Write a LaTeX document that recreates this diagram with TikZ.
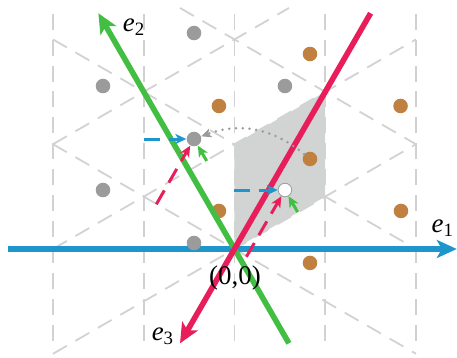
\documentclass[tikz,border=0pt]{standalone}
\usepackage{fontspec}
\setmainfont{Liberation Serif}
\usetikzlibrary{arrows.meta, calc}

\definecolor{axisblue}{RGB}{30,150,204}
\definecolor{axisgreen}{RGB}{66,190,66}
\definecolor{axisred}{RGB}{232,30,90}
\definecolor{dotgray}{RGB}{155,155,155}
\definecolor{dotorange}{RGB}{192,128,64}
\definecolor{regiongray}{RGB}{210,212,212}
\definecolor{gridgray}{RGB}{210,210,210}

\begin{document}
\begin{tikzpicture}[
        x=1.6cm, y=1.6cm,
        gridline/.style={
            draw=gridgray,
            line width=0.9pt,
            dash pattern=on 8pt off 5pt
        },
        region/.style={fill=regiongray},
        graydot/.style={
            circle,
            fill=dotgray,
            inner sep=0pt,
            minimum size=7.3pt
        },
        orangedot/.style={
            circle,
            fill=dotorange,
            inner sep=0pt,
            minimum size=7.3pt
        },
        whitedot/.style={
            circle,
            draw=dotgray,
            line width=0.4pt,
            fill=white,
            inner sep=0pt,
            minimum size=6.8pt
        },
        axis/.style={line width=2.8pt, -{Stealth[length=10pt, width=9pt, inset=2.5pt]}},
        movearrow/.style={
            line width=1.5pt,
            dash pattern=on 8pt off 4.5pt,
            -{Stealth[length=5.5pt, width=5pt, inset=1.5pt]}
        },
        turnarrow/.style={
            draw=dotgray,
            line width=1.4pt,
            line cap=round,
            dash pattern=on 0pt off 3.4pt,
            -{Stealth[length=5pt, width=4.5pt, inset=1.2pt]}
        },
        axislabel/.style={font=\fontsize{13.5}{15}\selectfont}
    ]

    \useasboundingbox (-2.584,-1.201) rectangle (2.452,2.744);

    \foreach \x in {-2,...,2}
        \draw [gridline] (\x,-1.01) -- (\x,2.60);
    \draw [gridline] (-2,2.3094) -- (2,0);
    \draw [gridline] (-0.6,2.6558) -- (2,1.1547);
    \draw [gridline] (-2,1.1547) -- (2,-1.1547);
    \draw [gridline] (-2,1.1547) -- (0.6,2.6558);
    \draw [gridline] (-2,0) -- (2,2.3094);
    \draw [gridline] (-2,-1.1547) -- (2,1.1547);

    \fill [region] (0,0) -- (1,0.5774) -- (1,1.7321) -- (0,1.1547) -- cycle;

    \coordinate (e1s) at (-2.496,0);
    \coordinate (e1e) at (2.45,0);
    \draw [axis, axisblue] (e1s) -- (e1e);

    \node (g1) [graydot] at (-0.446,2.380) {};
    \node (g2) [graydot] at (-1.449,1.796) {};
    \node (g3) [graydot] at (0.556,1.796) {};
    \node (g4) [graydot] at (-0.446,1.212) {};
    \node (g5) [graydot] at (-1.449,0.650) {};
    \node (g6) [graydot] at (-0.446,0.066) {};
    \node (w) [whitedot] at (0.556,0.650) {};

    \node (o1) [orangedot] at (0.832,2.149) {};
    \node (o2) [orangedot] at (-0.171,1.576) {};
    \node (o3) [orangedot] at (1.830,1.576) {};
    \node (o4) [orangedot] at (0.832,0.992) {};
    \node (o5) [orangedot] at (-0.171,0.419) {};
    \node (o6) [orangedot] at (1.835,0.419) {};
    \node (o7) [orangedot] at (0.832,-0.154) {};

    \coordinate (e2s) at (120:-1.2);
    \coordinate (e2e) at (120:3.0);
    \coordinate (e3s) at (60:3.0);
    \coordinate (e3e) at (240:1.2);
    \draw [axis, axisgreen] (e2s) -- (e2e);
    \draw [axis, axisred] (e3s) -- (e3e);

    \node (l1) [axislabel] at (2.297,0.231) {\textit{e}\textsubscript{1}};
    \node (l2) [axislabel] at (-1.107,2.446) {\textit{e}\textsubscript{2}};
    \node (l3) [axislabel] at (-0.788,-0.959) {\textit{e}\textsubscript{3}};
    \node (orig) [axislabel] at (0.006,-0.320) {(0,0)};

    \draw [turnarrow] (o4) to[bend right=30] (g4);

    \coordinate (bg) at (-1,1.212);
    \coordinate (rg) at ($(g4)+(240:0.83)$);
    \coordinate (gg) at ($(g4)+(300:0.28)$);
    \draw [movearrow, axisblue] (bg) -- (g4);
    \draw [movearrow, axisred] (rg) -- (g4);
    \draw [movearrow, axisgreen, solid] (gg) -- (g4);

    \coordinate (bw) at (0,0.650);
    \coordinate (rw) at ($(w)+(240:0.85)$);
    \coordinate (gw) at ($(w)+(300:0.28)$);
    \draw [movearrow, axisblue] (bw) -- (w);
    \draw [movearrow, axisred] (rw) -- (w);
    \draw [movearrow, axisgreen, solid] (gw) -- (w);

\end{tikzpicture}
\end{document}
